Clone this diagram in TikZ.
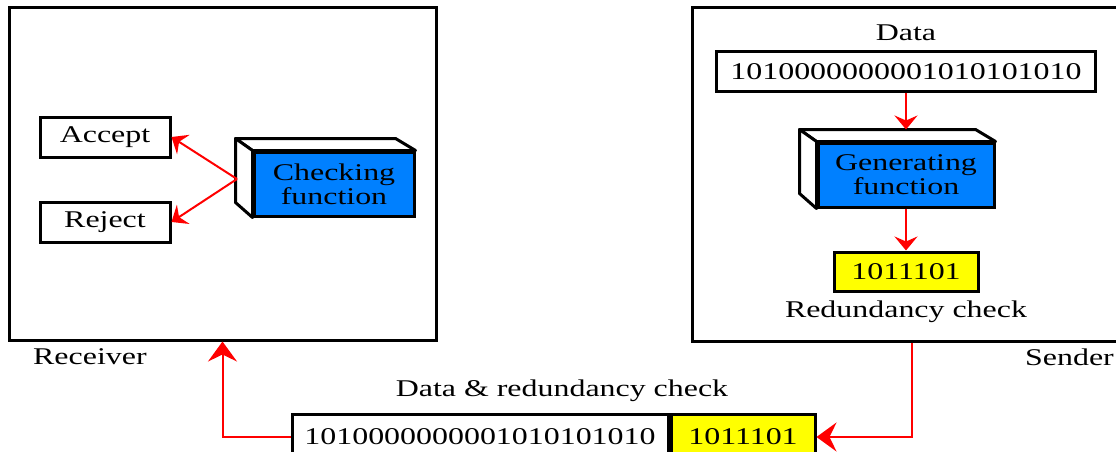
\documentclass[tikz,border=0pt]{standalone}
\usepackage{fontspec}
\setmainfont{Liberation Serif}[FakeStretch=1.33]
\usetikzlibrary{arrows.meta}
\definecolor{fnblue}{RGB}{0,128,255}
\definecolor{crcyel}{RGB}{255,255,0}
\begin{document}
\begin{tikzpicture}[x=1pt, y=-1pt,
  font=\fontsize{24}{25}\selectfont,
  frame/.style={draw, line width=3pt, inner sep=0pt},
  box/.style={draw, line width=3pt, inner sep=0pt, fill=white},
  fn/.style={box, fill=fnblue, align=center, font=\fontsize{24}{24}\selectfont},
  side/.style={draw, line width=3pt, fill=white, line join=round},
  lbl/.style={inner sep=0pt},
  arr/.style={red, line width=2pt, -{Stealth[length=14pt, width=23pt, inset=5pt]}},
  bigarr/.style={arr, -{Stealth[length=20pt, width=29pt, inset=7pt]}}]

\useasboundingbox (0,0) rectangle (1116,452);
\clip (0,0) rectangle (1116,452);

% receiver side
\node[frame, minimum width=427pt, minimum height=332pt] (rcv) at (222.5,174) {};
\node[box, minimum width=130pt, minimum height=40pt] (acc) at (105,137) {Accept};
\node[box, minimum width=130pt, minimum height=40pt] (rej) at (105,222) {Reject};
\node[fn, minimum width=160pt, minimum height=64pt] (chk) at (334,184) {Checking\\ function};
\draw[side] (chk.north west) -- ++(-17,-12) -- ++(160,0) -- (chk.north east) -- cycle;
\draw[side] (chk.north west) -- ++(-17,-12) -- ++(0,64) -- (chk.south west) -- cycle;
\coordinate (chkin) at (237,179);
\draw[arr] (chkin) -- (acc.east);
\draw[arr] (chkin) -- (rej.east);
\node[lbl, anchor=west] (rlbl) at (33,357) {Receiver};

% sender side
\node[frame, minimum width=427pt, minimum height=333pt] (snd) at (905.5,174.5) {};
\node[lbl] (dlbl) at (906,33) {Data};
\node[box, minimum width=379pt, minimum height=39pt] (dat) at (906,71.5) {1010000000001010101010};
\node[fn, minimum width=176pt, minimum height=64pt] (gen) at (906,175) {Generating\\ function};
\draw[side] (gen.north west) -- ++(-17,-12) -- ++(176,0) -- (gen.north east) -- cycle;
\draw[side] (gen.north west) -- ++(-17,-12) -- ++(0,64) -- (gen.south west) -- cycle;
\node[box, fill=crcyel, minimum width=144pt, minimum height=39pt] (crc) at (906,271.5) {1011101};
\node[lbl] (rclbl) at (906,312) {Redundancy check};
\draw[arr] (dat.south) -- ([yshift=12pt]gen.north);
\draw[arr] (gen.south) -- (crc.north);
\node[lbl, anchor=west] (slbl) at (1025,357) {Sender};

% what goes over the link
\node[lbl] (pklbl) at (562,391) {Data \& redundancy check};
\node[box, minimum width=376pt, minimum height=46pt] (pdat) at (480,437) {1010000000001010101010};
\node[box, fill=crcyel, minimum width=144pt, minimum height=46pt, anchor=west] (pcrc) at (pdat.east) {1011101};
\draw[bigarr] (pdat.west) -| (rcv.south);
\draw[bigarr] (snd.south) ++(6.5,0) |- (pcrc.east);
\end{tikzpicture}
\end{document}
